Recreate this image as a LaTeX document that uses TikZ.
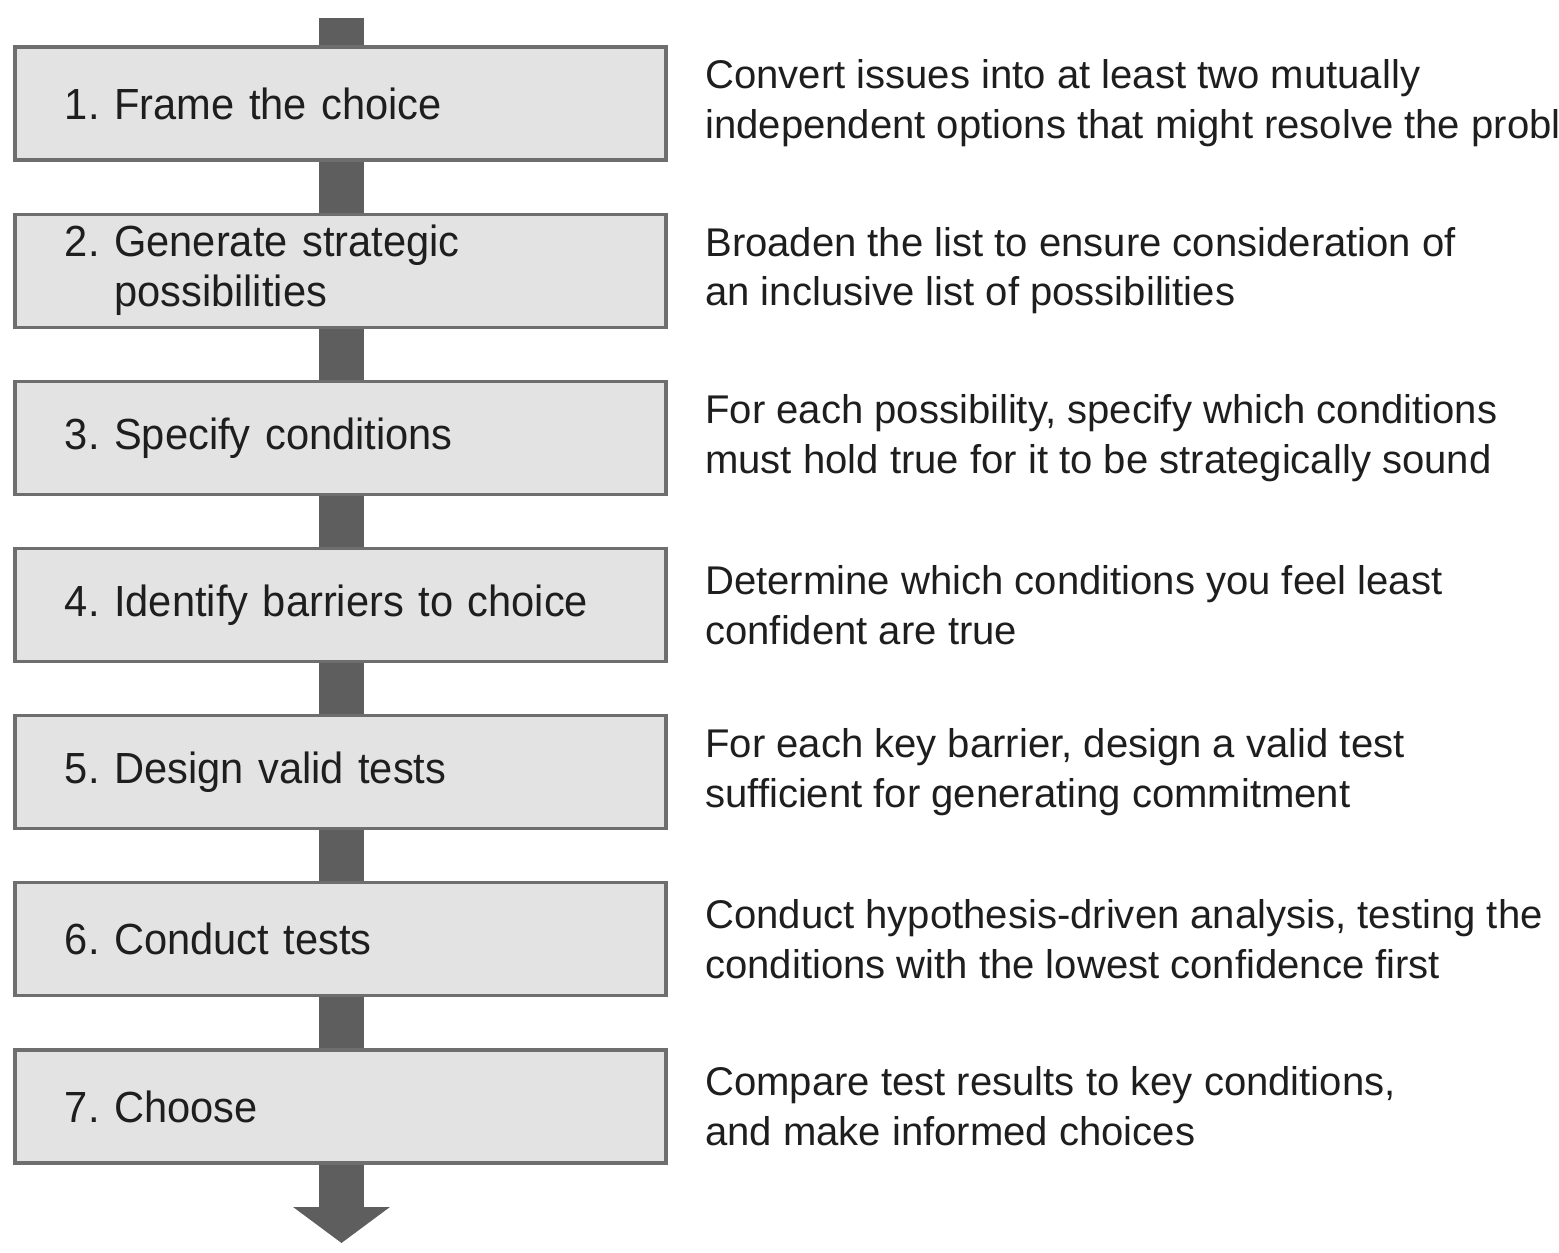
\documentclass[tikz,border=0pt]{standalone}
\usepackage{fontspec}
\setmainfont{Liberation Sans}
\newfontfamily\boxfont[FakeStretch=0.955]{Liberation Sans}
\usetikzlibrary{arrows.meta,positioning}
\definecolor{boxfill}{HTML}{E3E3E3}
\definecolor{boxline}{HTML}{6E6E6E}
\definecolor{barfill}{HTML}{5E5E5E}
\definecolor{txt}{HTML}{1E1E1E}
\tikzset{
    stepbox/.style={draw=boxline, line width=0.9pt, fill=boxfill, minimum height=1.13cm, text width=5.51cm, inner xsep=0.5cm, inner ysep=0pt, align=left, text=txt, font=\boxfont\fontsize{12.4}{14.2}\selectfont}, % box of one step
    note/.style={anchor=west, inner sep=0pt, align=left, text=txt, font=\fontsize{11.4}{14.2}\selectfont}, % text beside a step
    bar/.style={draw=barfill, line width=0.45cm} % thick gray connector
}
\frenchspacing

\begin{document}
\begin{tikzpicture}
    \useasboundingbox (0,0) rectangle (15.59,-12.53);

    % steps
    \node[stepbox] (s1) at (3.405,-1.035) {1. Frame the choice};
    \node[stepbox, below=0.51cm of s1] (s2) {2. Generate strategic\\\phantom{2. }possibilities};
    \node[stepbox, below=0.51cm of s2] (s3) {3. Specify conditions};
    \node[stepbox, below=0.51cm of s3] (s4) {4. Identify barriers to choice};
    \node[stepbox, below=0.51cm of s4] (s5) {5. Design valid tests};
    \node[stepbox, below=0.51cm of s5] (s6) {6. Conduct tests};
    \node[stepbox, below=0.51cm of s6] (s7) {7. Choose};

    % notes
    \node[note, right=0.37cm of s1] (n1) {Convert issues into at least two mutually\\independent options that might resolve the problem};
    \node[note, right=0.37cm of s2] (n2) {Broaden the list to ensure consideration of\\an inclusive list of possibilities};
    \node[note, right=0.37cm of s3] (n3) {For each possibility, specify which conditions\\must hold true for it to be strategically sound};
    \node[note, right=0.37cm of s4] (n4) {Determine which conditions you feel least\\confident are true};
    \node[note, right=0.37cm of s5] (n5) {For each key barrier, design a valid test\\sufficient for generating commitment};
    \node[note, right=0.37cm of s6] (n6) {Conduct hypothesis-driven analysis, testing the\\conditions with the lowest confidence first};
    \node[note, right=0.37cm of s7] (n7) {Compare test results to key conditions,\\and make informed choices};

    % connectors
    \coordinate (top) at (3.415,-0.18);
    \coordinate (end) at (3.415,-12.43);
    \draw[bar] (top) -- (s1.north -| top);
    \foreach \a/\b in {s1/s2,s2/s3,s3/s4,s4/s5,s5/s6,s6/s7}
        \draw[bar] (\a.south -| top) -- (\b.north -| top);
    \draw[bar, -{Triangle[width=0.95cm,length=0.36cm]}] (s7.south -| top) -- (end);
\end{tikzpicture}
\end{document}
